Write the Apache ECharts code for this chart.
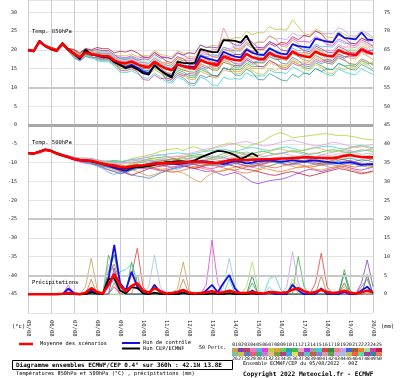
<!DOCTYPE html>
<html><head><meta charset="utf-8">
<script src="https://cdn.jsdelivr.net/npm/echarts@6/dist/echarts.min.js"></script>
<style>html,body{margin:0;padding:0;background:#fff}#c{width:400px;height:378px}</style>
</head><body><div id="c"></div>
<script>
// ---------- time axis (6-hourly, 05/08 00Z .. 20/08 00Z) ----------
const STEP_H = 6;
const DATES = ['05/08','06/08','07/08','08/08','09/08','10/08','11/08','12/08','13/08','14/08','15/08','16/08','17/08','18/08','19/08','20/08'];

// ---------- Temp 850 hPa (°C) ----------
const T850_MEAN = [19.9,19.7,22.2,21.0, 20.3,19.8,21.6,20.0, 18.9,18.0,19.2,18.8, 18.6,18.3,18.3,17.2, 16.6,16.4,16.9,16.2, 15.6,15.4,16.8,15.8, 15.0,14.6,16.2,15.6, 15.2,15.0,17.3,16.6, 16.2,16.0,18.2,17.7, 17.3,17.2,18.9,18.0, 17.6,17.5,19.2,18.4, 18.0,17.7,19.5,18.7, 18.3,18.0,19.5,18.8, 18.4,18.2,19.9,19.2, 18.8,18.6,20.1,19.4, 18.9];
const T850_OPER = [20.0,19.6,22.4,21.0, 20.2,19.8,21.8,20.2, 19.0,17.6,20.0,18.8, 18.5,18.2,18.0,16.8, 16.0,15.1,15.6,14.8, 13.8,13.4,16.0,14.6, 13.5,12.6,16.8,16.5, 16.4,16.5,20.2,19.8, 19.4,19.4,22.6,22.5, 22.4,21.9,23.8,21.0, 19.1];
const T850_CTRL = [20.0,19.6,22.3,21.0, 20.2,19.8,21.7,20.0, 19.0,17.5,19.6,18.8, 18.5,18.0,18.0,16.8, 16.0,15.4,16.0,15.2, 14.2,13.8,15.8,14.6, 13.6,13.0,16.0,15.6, 15.6,15.4,18.4,17.8, 17.4,17.0,19.5,18.8, 18.2,18.0,20.0,19.2, 18.8,18.6,20.4,19.6, 19.0,18.8,21.5,21.0, 20.8,20.6,23.0,22.6, 22.2,22.0,24.4,23.2, 23.0,22.8,24.6,22.8, 22.6];
const T850_M01 = [20.1,19.9,22.4,21.2, 20.6,20.1,21.9,20.3, 19.5,18.6,19.8,19.4, 19.8,19.5,19.5,18.4, 18.6,18.4,18.9,18.2, 18.6,18.4,19.8,18.8, 18.5,18.1,19.7,19.1, 19.2,19.0,21.3,20.6, 21.2,21.0,23.2,22.7, 23.3,23.2,24.9,24.0, 24.6,24.5,26.2,25.4, 25.5,25.2,28.0,26.2, 24.3,24.0,25.5,24.8, 23.4,23.2,24.9,24.2, 23.3,23.1,24.6,23.9, 22.9];
const T850_M02 = [19.7,19.5,22.0,20.8, 20.0,19.5,21.3,19.7, 18.1,17.2,18.4,18.0, 17.1,16.8,16.8,15.7, 14.1,13.9,14.4,13.7, 12.6,12.4,13.8,12.8, 11.5,11.1,12.7,12.1, 10.7,10.5,12.8,12.1, 10.7,10.5,12.7,12.2, 12.3,12.2,13.9,13.0, 13.1,13.0,14.7,13.9, 14.0,13.7,15.5,14.7, 13.8,13.5,15.0,14.3, 13.4,13.2,14.9,14.2, 13.6,13.4,14.9,14.2, 13.4];
const T850_M03 = [19.9,19.7,22.2,21.0, 20.5,20.0,21.8,20.2, 19.2,18.3,19.5,19.1, 19.4,19.1,19.1,18.0, 18.1,17.9,18.4,17.7, 18.1,17.9,19.3,18.3, 18.0,17.6,19.2,18.6, 17.7,17.5,19.8,19.1, 18.2,18.0,20.2,19.7, 19.8,19.7,21.4,20.5, 20.6,20.5,22.2,21.4, 21.5,21.2,23.0,22.2, 22.3,22.0,23.5,22.8, 21.4,21.2,22.9,22.2, 21.3,21.1,22.6,21.9, 20.9];
const T850_M04 = [20.0,19.8,22.3,21.1, 20.2,19.7,21.5,19.9, 18.4,17.5,18.7,18.3, 17.6,17.3,17.3,16.2, 15.1,14.9,15.4,14.7, 14.1,13.9,15.3,14.3, 13.0,12.6,14.2,13.6, 12.7,12.5,14.8,14.1, 13.2,13.0,15.2,14.7, 14.8,14.7,16.4,15.5, 15.6,15.5,17.2,16.4, 15.5,15.2,17.0,16.2, 15.3,15.0,16.5,15.8, 14.9,14.7,16.4,15.7, 15.8,15.6,17.1,16.4, 16.4];
const T850_M05 = [20.2,20.0,22.5,21.3, 20.5,20.0,21.8,20.2, 19.9,19.0,20.2,19.8, 20.1,19.8,19.8,18.7, 17.6,17.4,17.9,17.2, 17.6,17.4,18.8,17.8, 18.0,17.6,19.2,18.6, 19.2,19.0,21.3,20.6, 20.7,20.5,22.7,22.2, 21.3,21.2,22.9,22.0, 20.6,20.5,22.2,21.4, 20.0,19.7,21.5,20.7, 19.8,19.5,21.0,20.3, 19.4,19.2,20.9,20.2, 19.3,19.1,20.6,19.9, 19.9];
const T850_M06 = [19.8,19.6,22.1,20.9, 20.3,19.8,21.6,20.0, 19.1,18.2,19.4,19.0, 18.1,17.8,17.8,16.7, 15.6,15.4,15.9,15.2, 13.6,13.4,14.8,13.8, 12.5,12.1,13.7,13.1, 12.2,12.0,14.3,13.6, 12.7,12.5,14.7,14.2, 14.3,14.2,15.9,15.0, 15.1,15.0,16.7,15.9, 16.0,15.7,17.5,16.7, 16.8,16.5,18.0,17.3, 17.4,17.2,18.9,18.2, 17.8,17.6,19.1,18.4, 17.4];
const T850_M07 = [19.9,19.7,22.2,21.0, 20.4,19.9,21.7,20.1, 19.2,18.3,19.5,19.1, 19.1,18.8,18.8,17.7, 17.1,16.9,17.4,16.7, 16.6,16.4,17.8,16.8, 16.5,16.1,17.7,17.1, 17.2,17.0,19.3,18.6, 20.2,20.0,25.8,22.7, 20.3,20.2,21.9,21.0, 18.6,18.5,20.2,19.4, 18.5,18.2,20.0,19.2, 19.3,19.0,20.5,19.8, 19.9,19.7,21.4,20.7, 20.8,20.6,22.1,21.4, 20.4];
const T850_M08 = [19.7,19.5,22.0,20.8, 20.1,19.6,21.4,19.8, 18.6,17.7,18.9,18.5, 18.6,18.3,18.3,17.2, 16.1,15.9,16.4,15.7, 14.6,14.4,15.8,14.8, 13.5,13.1,14.7,14.1, 13.2,13.0,15.3,14.6, 13.2,13.0,15.2,14.7, 13.3,13.2,14.9,14.0, 12.1,12.0,13.7,12.9, 12.0,11.7,13.5,12.7, 13.8,13.5,15.0,14.3, 14.9,14.7,16.4,15.7, 14.8,14.6,16.1,15.4, 14.4];
const T850_M09 = [20.0,19.8,22.3,21.1, 20.3,19.8,21.6,20.0, 18.9,18.0,19.2,18.8, 19.6,19.3,19.3,18.2, 17.1,16.9,17.4,16.7, 16.1,15.9,17.3,16.3, 16.0,15.6,17.2,16.6, 16.7,16.5,18.8,18.1, 18.7,18.5,20.7,20.2, 20.8,20.7,22.4,21.5, 22.1,22.0,23.7,22.9, 23.0,22.7,24.5,23.7, 23.8,23.5,25.0,24.3, 24.4,24.2,25.9,25.2, 23.8,23.6,25.1,24.4, 23.4];
const T850_M10 = [19.9,19.7,22.2,21.0, 20.1,19.6,21.4,19.8, 18.9,18.0,19.2,18.8, 18.3,18.0,18.0,16.9, 15.8,15.6,16.1,15.4, 15.1,14.9,16.3,15.3, 14.0,13.6,15.2,14.6, 14.2,14.0,16.3,15.6, 14.7,14.5,16.7,16.2, 15.8,15.7,17.4,16.5, 16.6,16.5,18.2,17.4, 17.5,17.2,19.0,18.2, 17.3,17.0,18.5,17.8, 16.4,16.2,17.9,17.2, 16.3,16.1,17.6,16.9, 15.9];
const T850_M11 = [19.9,19.7,22.2,21.0, 20.4,19.9,21.7,20.1, 18.7,17.8,19.0,18.6, 19.2,18.9,18.9,17.8, 17.8,17.6,18.1,17.4, 16.6,16.4,17.8,16.8, 15.5,15.1,16.7,16.1, 16.7,16.5,18.8,18.1, 18.7,18.5,20.7,20.2, 18.8,18.7,20.4,19.5, 18.1,18.0,19.7,18.9, 19.0,18.7,20.5,19.7, 20.3,20.0,21.5,20.8, 20.9,20.7,22.4,21.7, 21.8,21.6,23.1,22.4, 20.9];
const T850_M12 = [19.9,19.7,22.2,21.0, 20.2,19.7,21.5,19.9, 19.3,18.4,19.6,19.2, 17.8,17.5,17.5,16.4, 14.6,14.4,14.9,14.2, 12.1,11.9,13.3,12.3, 12.5,12.1,13.7,13.1, 13.7,13.5,15.8,15.1, 15.7,15.5,17.7,17.2, 16.3,16.2,17.9,17.0, 15.6,15.5,17.2,16.4, 15.0,14.7,16.5,15.7, 16.3,16.0,17.5,16.8, 17.4,17.2,18.9,18.2, 18.3,18.1,19.6,18.9, 18.9];
const T850_M13 = [20.0,19.8,22.3,21.1, 20.6,20.1,21.9,20.3, 19.7,18.8,20.0,19.6, 18.9,18.6,18.6,17.5, 16.1,15.9,16.4,15.7, 16.1,15.9,17.3,16.3, 16.5,16.1,17.7,17.1, 18.2,18.0,20.3,19.6, 18.2,18.0,20.2,19.7, 20.3,20.2,21.9,21.0, 22.1,22.0,23.7,22.9, 21.0,20.7,22.5,21.7, 19.3,19.0,20.5,19.8, 18.4,18.2,19.9,19.2, 19.8,19.6,21.1,20.4, 21.4];
const T850_M14 = [19.8,19.6,22.1,20.9, 20.3,19.8,21.6,20.0, 18.3,17.4,18.6,18.2, 17.4,17.1,17.1,16.0, 15.6,15.4,15.9,15.2, 15.6,15.4,16.8,15.8, 16.0,15.6,17.2,16.6, 15.2,15.0,17.3,16.6, 15.2,15.0,17.2,16.7, 15.3,15.2,16.9,16.0, 16.6,16.5,18.2,17.4, 18.0,17.7,19.5,18.7, 18.8,18.5,20.0,19.3, 16.9,16.7,18.4,17.7, 15.8,15.6,17.1,16.4, 14.9];
const T850_M15 = [20.1,19.9,22.4,21.2, 20.7,20.2,22.0,20.4, 20.1,19.2,20.4,20.0, 20.6,20.3,20.3,19.2, 19.6,19.4,19.9,19.2, 18.1,17.9,19.3,18.3, 17.0,16.6,18.2,17.6, 16.2,16.0,18.3,17.6, 16.7,16.5,18.7,18.2, 18.8,18.7,20.4,19.5, 20.1,20.0,21.7,20.9, 22.0,21.7,23.5,22.7, 23.8,23.5,25.0,24.3, 22.4,22.2,23.9,23.2, 21.8,21.6,23.1,22.4, 22.4];
const T850_M16 = [19.7,19.5,22.0,20.8, 19.9,19.4,21.2,19.6, 17.9,17.0,18.2,17.8, 18.1,17.8,17.8,16.7, 16.6,16.4,16.9,16.2, 14.6,14.4,15.8,14.8, 12.0,11.6,13.2,12.6, 11.2,11.0,13.3,12.6, 13.2,13.0,15.2,14.7, 15.8,15.7,17.4,16.5, 17.1,17.0,18.7,17.9, 16.5,16.2,18.0,17.2, 15.8,15.5,17.0,16.3, 16.9,16.7,18.4,17.7, 18.8,18.6,20.1,19.4, 19.9];
const T850_M17 = [19.9,19.7,22.2,21.0, 20.5,20.0,21.8,20.2, 18.9,18.0,19.2,18.8, 19.6,19.3,19.3,18.2, 17.4,17.2,17.7,17.0, 17.1,16.9,18.3,17.3, 15.0,14.6,16.2,15.6, 14.2,14.0,16.3,15.6, 17.2,17.0,19.2,18.7, 19.8,19.7,21.4,20.5, 19.1,19.0,20.7,19.9, 17.5,17.2,19.0,18.2, 17.3,17.0,18.5,17.8, 18.9,18.7,20.4,19.7, 20.3,20.1,21.6,20.9, 19.4];
const T850_M18 = [19.8,19.6,22.1,20.9, 20.1,19.6,21.4,19.8, 19.1,18.2,19.4,19.0, 18.3,18.0,18.0,16.9, 15.1,14.9,15.4,14.7, 13.6,13.4,14.8,13.8, 14.0,13.6,15.2,14.6, 15.7,15.5,17.8,17.1, 15.2,15.0,17.2,16.7, 13.8,13.7,15.4,14.5, 13.6,13.5,15.2,14.4, 15.5,15.2,17.0,16.2, 14.8,14.5,16.0,15.3, 13.9,13.7,15.4,14.7, 15.3,15.1,16.6,15.9, 16.9];

// ---------- Temp 500 hPa (°C) ----------
const T500_MEAN = [-7.5,-7.6,-7.2,-6.6, -6.9,-7.6,-8.1,-8.5, -9.0,-9.3,-9.4,-9.5, -9.9,-10.3,-10.6,-10.8, -11.2,-11.3,-11.0,-10.8, -10.7,-10.5,-10.3,-10.2, -10.2,-10.1,-10.0,-9.9, -9.8,-9.8,-9.8,-9.9, -10.0,-10.1,-9.8,-9.4, -9.2,-9.3,-9.3,-9.2, -9.2,-9.1,-9.1,-9.0, -8.9,-8.9,-8.8,-8.7, -8.6,-8.6,-8.7,-8.7, -8.8,-8.8,-8.6,-8.2, -8.0,-8.3,-8.5,-8.6, -8.6];
const T500_OPER = [-7.5,-7.6,-7.0,-6.5, -6.8,-7.5,-8.0,-8.5, -9.0,-9.3,-9.4,-9.6, -10.0,-10.3,-10.7,-11.0, -11.4,-11.6,-11.3,-11.2, -11.1,-10.9,-10.6,-10.2, -9.9,-9.8,-9.6,-9.7, -9.8,-9.4,-8.6,-8.0, -7.4,-6.9,-7.0,-7.4, -8.0,-9.0,-8.4,-7.5, -8.4];
const T500_CTRL = [-7.5,-7.6,-7.1,-6.6, -6.9,-7.6,-8.1,-8.6, -9.1,-9.4,-9.5,-9.7, -10.0,-10.5,-10.9,-11.4, -11.8,-12.2,-11.6,-11.0, -10.8,-10.5,-10.2,-10.0, -10.1,-10.3,-10.4,-10.2, -10.0,-9.8,-9.6,-9.7, -9.9,-10.2,-10.4,-10.0, -9.6,-9.8,-10.2,-10.0, -9.6,-9.5,-9.4,-9.6, -9.8,-9.6,-9.4,-9.6, -9.8,-9.5,-9.4,-9.6, -9.8,-10.0,-10.2,-10.0, -9.9,-10.2,-10.6,-10.4, -10.4];
const T500_M01 = [-7.5,-7.5,-7.0,-6.5, -6.8,-7.4,-8.0,-8.3, -8.8,-9.0,-9.2,-9.0, -9.4,-9.8,-9.6,-9.8, -10.0,-9.6,-9.0,-8.6, -8.4,-8.0,-7.6,-7.0, -6.6,-6.4,-6.2,-6.8, -6.0,-5.8,-6.4,-6.9, -6.2,-5.6,-5.2,-4.8, -5.0,-5.6,-6.0,-5.2, -4.8,-4.2,-3.2,-2.4, -2.0,-2.6,-3.4,-3.2, -3.0,-2.8,-2.6,-2.4, -2.3,-2.6,-2.8,-2.7, -3.0,-3.2,-3.6,-3.8, -4.0];
const T500_M02 = [-7.6,-7.7,-7.3,-6.8, -7.0,-7.7,-8.3,-8.7, -9.2,-9.5,-9.8,-10.0, -10.4,-10.8,-11.2,-11.4, -11.8,-12.0,-11.8,-11.6, -11.6,-11.4,-11.8,-12.2, -12.0,-11.6,-11.2,-11.0, -11.2,-11.6,-12.0,-12.4, -12.2,-12.8,-13.4,-13.0, -12.6,-13.2,-14.2,-15.2, -15.6,-15.2,-14.8,-14.6, -14.4,-14.0,-13.4,-12.8, -12.2,-11.8,-12.0,-12.4, -12.0,-11.6,-11.2,-11.0, -11.4,-11.8,-12.0,-11.6, -11.2];
const T500_M03 = [-7.5,-7.6,-7.1,-6.6, -6.9,-7.5,-8.0,-8.6, -9.2,-9.6,-9.8,-10.0, -10.2,-10.8,-11.4,-12.0, -12.4,-12.2,-11.8,-12.4, -13.0,-13.6,-13.2,-12.6, -12.4,-12.2,-12.4,-12.8, -13.6,-14.6,-15.2,-13.8, -12.8,-12.4,-12.0,-11.6, -11.2,-11.0,-10.8,-11.2, -11.6,-11.2,-10.8,-10.4, -10.2,-10.6,-11.0,-11.4, -11.2,-10.8,-10.4,-10.6, -11.0,-11.4,-11.2,-10.8, -10.6,-10.4,-10.8,-11.2, -11.4];
const T500_M04 = [-7.4,-7.5,-7.0,-6.5, -6.7,-7.3,-7.8,-8.2, -8.6,-8.8,-8.8,-8.9, -9.2,-9.6,-9.8,-9.7, -9.8,-9.6,-9.2,-9.0, -8.8,-8.6,-8.2,-8.0, -7.8,-7.6,-7.4,-7.6, -7.8,-7.6,-7.2,-7.0, -6.8,-6.6,-6.4,-6.8, -7.0,-6.6,-6.2,-6.0, -6.2,-6.6,-6.8,-6.4, -6.0,-5.8,-6.2,-6.6, -6.8,-6.4,-6.0,-5.8, -5.6,-5.8,-6.2,-6.4, -6.0,-5.6,-5.4,-5.8, -6.0];
const T500_M05 = [-7.5,-7.7,-7.3,-6.7, -7.0,-7.7,-8.3,-8.8, -9.4,-9.8,-10.2,-10.4, -10.8,-11.4,-12.0,-12.4, -12.8,-12.6,-12.0,-11.4, -11.0,-10.8,-10.6,-10.8, -11.0,-11.2,-11.0,-10.6, -10.4,-10.6,-11.0,-11.4, -11.6,-11.2,-10.8,-10.4, -10.2,-10.6,-11.0,-11.2, -10.8,-10.4,-10.0,-9.8, -10.0,-10.4,-10.6,-10.2, -9.8,-9.6,-10.0,-10.4, -10.6,-10.2,-9.8,-9.6, -9.4,-9.8,-10.2,-10.6, -10.8];
const T500_M06 = [-7.5,-7.6,-7.2,-6.6, -6.9,-7.5,-8.0,-8.4, -8.8,-9.0,-9.0,-9.1, -9.4,-9.6,-9.6,-9.4, -9.6,-10.0,-10.2,-9.8, -9.4,-9.0,-8.8,-8.6, -8.4,-8.8,-9.0,-8.6, -8.2,-8.0,-7.8,-8.2, -8.6,-8.2,-7.6,-7.2, -7.0,-7.4,-7.8,-7.6, -7.2,-7.0,-7.4,-7.8, -7.6,-7.2,-6.8,-7.0, -7.4,-7.8,-7.6,-7.2, -6.8,-6.6,-6.8,-7.2, -7.4,-7.0,-6.6,-6.8, -7.0];
const T500_M07 = [-7.6,-7.7,-7.3,-6.8, -7.1,-7.8,-8.3,-8.6, -9.1,-9.4,-9.6,-9.8, -10.0,-10.4,-10.8,-11.0, -11.2,-11.4,-11.6,-11.4, -11.2,-11.0,-11.4,-11.8, -11.6,-11.2,-10.8,-10.6, -10.8,-11.2,-11.4,-11.8, -12.0,-12.4,-12.2,-11.8, -12.2,-12.6,-12.8,-12.4, -12.0,-11.6,-11.8,-12.2, -12.4,-12.0,-11.6,-11.2, -11.0,-11.4,-11.8,-12.0, -11.6,-11.2,-11.0,-11.4, -11.8,-12.2,-12.6,-12.8, -12.4];
const T500_M08 = [-7.5,-7.6,-7.1,-6.6, -6.8,-7.4,-7.9,-8.3, -8.7,-9.1,-9.3,-9.2, -9.4,-9.8,-10.0,-10.2, -10.4,-10.2,-9.8,-9.4, -9.2,-9.4,-9.6,-9.2, -8.8,-8.4,-8.2,-8.6, -9.0,-9.2,-8.8,-8.4, -8.2,-8.6,-9.0,-8.8, -8.4,-8.0,-7.8,-8.2, -8.6,-8.4,-8.0,-7.6, -7.4,-7.8,-8.2,-8.4, -8.0,-7.6,-7.4,-7.8, -8.2,-8.0,-7.6,-7.2, -7.0,-7.4,-7.8,-7.6, -7.4];
const T500_M09 = [-7.5,-7.6,-7.2,-6.7, -7.0,-7.6,-8.2,-8.6, -9.1,-9.5,-9.7,-10.1, -10.6,-11.2,-11.8,-12.4, -13.0,-12.6,-12.0,-11.6, -11.2,-10.8,-10.4,-10.6, -10.8,-10.4,-10.0,-9.8, -9.6,-9.4,-9.8,-10.2, -10.4,-10.8,-11.0,-10.6, -10.2,-9.8,-9.6,-10.0, -10.2,-9.8,-9.4,-9.2, -9.4,-9.8,-10.2,-9.8, -9.4,-9.2,-9.6,-10.0, -10.2,-9.8,-9.4,-9.0, -8.8,-9.2,-9.6,-9.4, -9.0];
const T500_M10 = [-7.4,-7.5,-7.1,-6.5, -6.8,-7.5,-8.1,-8.4, -8.8,-9.2,-9.2,-9.4, -9.6,-9.8,-10.2,-10.0, -9.8,-9.4,-9.2,-9.6, -10.0,-9.8,-9.4,-9.0, -9.2,-9.6,-9.8,-9.4, -9.0,-8.6,-8.4,-8.8, -9.2,-9.0,-8.6,-8.2, -7.8,-7.4,-7.2,-7.6, -8.0,-8.4,-8.2,-7.8, -7.6,-7.2,-7.0,-7.4, -7.8,-8.2,-8.4,-8.0, -7.6,-7.2,-6.8,-6.6, -6.8,-7.2,-7.0,-6.6, -6.4];
const T500_M11 = [-7.5,-7.6,-7.1,-6.6, -6.9,-7.5,-8.2,-8.7, -9.3,-9.6,-9.9,-10.3, -10.9,-11.6,-12.6,-13.2, -12.4,-11.6,-10.8,-10.2, -9.8,-9.4,-9.8,-10.4, -10.8,-11.4,-11.8,-11.2, -10.6,-10.2,-9.6,-9.2, -8.8,-8.4,-8.6,-9.0, -9.4,-9.8,-10.2,-10.6, -10.8,-11.2,-11.0,-10.4, -10.0,-9.6,-9.2,-9.4, -9.8,-10.2,-10.6,-10.8, -10.4,-10.0,-9.6,-9.8, -10.2,-10.6,-11.0,-10.8, -10.4];
const T500_M12 = [-7.5,-7.5,-7.1,-6.5, -6.8,-7.4,-7.9,-8.2, -8.7,-9.0,-9.1,-9.3, -9.6,-10.0,-10.2,-10.4, -10.6,-10.8,-10.4,-10.0, -9.6,-9.2,-9.0,-9.4, -9.6,-9.2,-8.8,-8.4, -8.2,-8.6,-9.0,-9.4, -9.2,-8.8,-8.2,-7.6, -7.2,-7.6,-8.0,-8.4, -8.0,-7.6,-7.0,-6.6, -6.4,-6.8,-7.2,-7.0, -6.6,-6.2,-6.0,-6.4, -6.8,-7.2,-7.0,-6.6, -6.2,-5.8,-5.6,-6.0, -6.4];
const T500_M13 = [-7.6,-7.7,-7.2,-6.7, -7.0,-7.7,-8.2,-8.6, -9.0,-9.2,-9.4,-9.6, -9.8,-10.2,-10.8,-11.6, -12.2,-12.8,-13.4,-12.8, -12.2,-11.6,-11.2,-11.0, -10.6,-10.2,-10.4,-10.8, -11.2,-11.6,-11.2,-10.8, -10.4,-10.0,-10.2,-10.6, -11.0,-11.4,-11.8,-12.0, -12.4,-12.8,-13.2,-13.4, -13.0,-12.6,-12.4,-12.8, -13.2,-13.6,-13.2,-12.8, -12.4,-12.0,-11.6,-11.8, -12.2,-12.6,-13.0,-12.6, -12.2];
const T500_M14 = [-7.5,-7.6,-7.2,-6.6, -6.9,-7.6,-8.1,-8.5, -8.9,-9.1,-9.3,-9.4, -9.8,-10.1,-10.3,-10.4, -10.6,-10.8,-11.0,-11.2, -11.4,-11.2,-10.8,-10.4, -10.0,-9.6,-9.2,-9.0, -8.8,-8.4,-8.2,-8.6, -9.0,-9.4,-9.6,-9.2, -8.8,-8.4,-8.2,-8.6, -9.0,-9.4,-9.8,-10.0, -9.6,-9.2,-8.8,-8.4, -8.2,-8.6,-9.0,-9.2, -9.0,-8.6,-8.2,-7.8, -7.6,-8.0,-8.4,-8.2, -7.8];
const T500_M15 = [-7.5,-7.7,-7.3,-6.7, -7.0,-7.7,-8.2,-8.7, -9.2,-9.6,-9.9,-10.2, -10.6,-11.0,-11.2,-11.6, -12.0,-12.6,-13.2,-13.6, -13.8,-14.2,-13.6,-12.8, -12.2,-11.8,-11.4,-11.0, -10.6,-10.4,-10.2,-10.6, -10.8,-10.4,-10.0,-9.6, -9.4,-9.8,-10.2,-10.4, -10.2,-9.8,-9.6,-9.8, -10.2,-10.6,-10.4,-10.0, -9.6,-9.2,-9.4,-9.8, -10.2,-10.6,-10.8,-10.4, -10.0,-9.6,-9.2,-9.4, -9.8];
const T500_M16 = [-7.4,-7.5,-7.0,-6.4, -6.7,-7.3,-7.8,-8.1, -8.5,-8.8,-8.9,-9.0, -9.3,-9.6,-9.8,-10.0, -10.2,-10.0,-9.6,-9.2, -8.8,-8.4,-8.0,-7.8, -8.2,-8.6,-8.4,-8.0, -7.6,-7.2,-6.8,-6.4, -6.2,-6.0,-5.6,-5.2, -5.0,-4.6,-4.4,-4.8, -5.2,-5.6,-5.4,-5.0, -4.6,-4.2,-4.0,-4.4, -4.8,-5.2,-5.6,-5.4, -5.0,-4.6,-4.8,-5.2, -5.6,-6.0,-5.8,-5.4, -5.2];
const T500_M17 = [-7.5,-7.6,-7.2,-6.6, -6.9,-7.6,-8.1,-8.5, -9.0,-9.4,-9.6,-9.8, -10.2,-10.6,-11.0,-11.2, -11.6,-11.8,-11.4,-11.0, -10.6,-10.2,-9.8,-9.6, -9.4,-9.0,-9.2,-9.6, -10.0,-10.4,-10.8,-10.6, -10.2,-9.8,-9.4,-9.6, -10.0,-10.4,-10.8,-11.0, -10.6,-10.2,-9.8,-9.4, -9.0,-8.6,-8.8,-9.2, -9.6,-10.0,-10.4,-10.2, -9.8,-9.4,-9.0,-9.2, -9.6,-10.0,-10.4,-10.8, -11.0];
const T500_M18 = [-7.5,-7.6,-7.2,-6.7, -7.0,-7.6,-8.1,-8.6, -9.1,-9.5,-9.6,-9.8, -10.0,-10.4,-10.6,-10.6, -10.8,-11.0,-10.8,-10.6, -10.8,-11.2,-11.6,-12.0, -12.2,-12.6,-12.4,-12.0, -11.6,-11.2,-10.8,-10.4, -10.6,-11.0,-11.4,-11.8, -12.0,-11.6,-11.2,-10.8, -10.6,-10.8,-11.2,-11.4, -11.0,-10.6,-10.2,-10.4, -10.8,-11.2,-11.0,-10.6, -10.2,-10.0,-10.2,-10.6, -11.0,-11.2,-10.8,-10.4, -10.2];

// ---------- Precipitation (mm / 6h) ----------
const PR_MEAN = [0,0,0,0,0,0,0.1,0.3,0.1,0, 0.4,1.6,0.6,0.2,2.5,5.4,2.4,0.8,2.2,2.9, 1.0,0.4,1.6,0.8,0.2,0.3,0.6,1.1,0.4,0.2, 0.3,0.5,0.8,0.4,0.5,0.9,0.5,0.3,0.3,0.6, 0.3,0.2,0.6,0.5,0.3,0.5,1.2,1.6,0.8,0.3, 0.6,1.2,0.6,0.3,0.5,0.9,0.4,0.2,0.5,0.9, 0.5];
const PR_OPER = [0,0,0,0,0,0,0,0.2,0,0, 0,0.5,0.2,0,4.0,4.3,1.0,0.2,1.9,1.6, 0.3,0,0.4,0.1,0,0,0,0.4,0,0, 0,0,0.2,0,0,0.3,0,0,0,0.2, 0];
const PR_CTRL = [0,0,0,0,0,0,0,1.5,0.3,0, 0,1.0,0.2,0,4.0,13.1,3.0,1.0,6.0,2.0, 0.2,0,2.5,0.5,0,0,0,1.2,0,0, 0,1.0,2.5,0.5,3.0,5.1,1.5,0,0,1.0, 0,0,0.5,0,0,0,2.5,1.0,0,0, 0,1.5,0,0,0,0.6,0,0,1.0,2.0, 0.3];
const PR_M01 = [0,0,0,0,0,0,0,0,0,0, 2.0,9.6,1.5,0,0,3.0,0,0,0,0, 0,0,2.0,0,0,0,1.5,8.6,1.0,0, 0,0,0,0,0,0,0,0,0,0, 0,0,0,0,0,0,3.0,0,0,0, 0,0,0,0,0,2.0,0,0,0,0, 0];
const PR_M02 = [0,0,0,0,0,0,0,0,0,0, 0,0,0,0,0,2.0,0,1.0,5.0,12.2, 2.0,0,0,0,0,0,0,0,0,0, 0,0,1.0,0,0,0,0,0,0,0, 0,0,0,0,0,0,0,0,0,0, 3.0,10.9,2.0,0,0,0,0,0,0,0, 0];
const PR_M03 = [0,0,0,0,0,0,0,2.4,0,0, 0,0,0,0,2.0,4.0,0,0,0,0, 0,0,0,0,0,0,0,0,0,0, 0,2.5,14.4,3.0,0,1.0,0,0,0,0, 0,0,0,0,0,0,0,0,0,0, 0,0,0,0,0,0,0,0,2.0,4.0, 0];
const PR_M04 = [0,0,0,0,0,0,0,0,0,0, 0,0,0,0,10.4,6.0,2.0,0,8.6,3.0, 0,0,0,1.0,0,0,0,0,0,0, 0,0,0,0,0,0,0,0,0,3.0, 0,0,0,0,0,0,0,10.0,2.0,0, 0,0,0,0,0,6.5,1.0,0,0,0, 0];
const PR_M05 = [0,0,0,0,0,0,0,0,0,0, 0,0,0,0,0,3.0,6.0,6.5,8.0,3.0, 0.5,0,0,0,0,0,0,0,0,0, 0,0,0,0,0,4.0,0,0,0,0, 0,0,4.2,4.8,1.0,0,0,0,0,0, 0,0,0,0,0,3.0,0,0,0,0, 0];
const PR_M06 = [0,0,0,0,0,0,0,0,0,0, 0,0,0,0,0,0,0,0,0,0, 0,2.0,10.4,2.0,0,0,0,0,0,0, 0,0,0,0,2.0,9.6,2.0,0,0,0, 0,0,2.0,0,0,0,0,0,0,0, 0,0,0,0,0,0,0,0,0,0, 0];
const PR_M07 = [0,0,0,0,0,0,0,0,0,0, 0,0,0,0,0,0,0,0,0,0, 0,0,0,0,0,0,0,0,0,0, 0,0,0,0,0,0,0,0,2.0,8.6, 1.5,0,0,0,0,0,4.0,2.0,0,0, 0,0,0,0,0,0,0,0,0,5.0, 0];
const PR_M08 = [0,0,0,0,0,0,0,0,0,0, 0,0,0,0,8.0,6.0,1.0,0,0,0, 0,0,0,0,0,0,0,0,0,0, 0,0,0,0,0,0,0,0,0,0, 0,0,0,0,0,2.0,11.3,3.0,0,0, 0,2.0,0,0,0,0,0,0,0,0, 0];
const PR_M09 = [0,0,0,0,0,0,0,1.0,0,0, 0,0,0,0,0,7.0,2.0,0,0,0, 0,0,0,0,0,0,0,0,0,0, 0,0,0,0,0,0,0,0,0,0, 0,0,0,0,0,0,0,0,0,0, 0,0,0,0,0,0,0,0,3.0,9.1, 2.0];
const PR_M10 = [0,0,0,0,0,0,0,0,0,0, 0,4.0,0,0,5.0,8.0,3.0,0,0,5.0, 0,0,0,0,0,0,0,4.0,0,0, 0,0,0,0,0,0,0,0,0,0, 0,0,0,0,0,0,0,0,0,0, 0,5.0,0,0,0,3.0,0,0,0,0, 0];
const PR_M11 = [0,0,0,0,0,0,0,0,0,0, 0,0,0,0,6.0,10.5,3.0,0,0,0, 0,0,0,0,0,0,0,0,0,0, 0,0,0,0,0,0,0,0,0,5.0, 0,0,0,0,0,0,0,0,0,0, 0,0,0,0,0,5.5,0,0,0,5.2, 0];

// ---------- legend palette of the 50 perturbations ----------
const PERT_COLORS = ['#c8a050','#8040c0','#c04060','#e080c0','#60b0e0','#e040e0','#b0d040','#e0a040','#60d060','#30a0a0','#40c040','#f0a0c0','#a040e0','#a0a0a0','#40d0d0','#e04040','#309040','#f08080','#c0a0f0','#4060e0','#a06030','#f08030','#a0e0a0','#d040a0','#c02040',
                     '#80c0a0','#d0c040','#6080c0','#e06080','#40b080','#c080e0','#e0c080','#80a040','#b04080','#40a0e0','#e0e060','#a06080','#60c0c0','#c06040','#8080e0','#d0a0a0','#60a060','#e0a0e0','#a0c0e0','#c0c060','#f06040','#60e0a0','#a040a0','#4080a0','#e08060'];

const MONO = '"DejaVu Sans Mono"';
const toPairs = a => a.map((v, i) => [i * STEP_H, v]);

function member(arr, color, axis) {
  return { type: 'line', data: toPairs(arr), yAxisIndex: axis, showSymbol: false, silent: true,
    lineStyle: { width: 0.8, color: color }, itemStyle: { color: color }, z: 2, animation: false };
}
function main(arr, color, width, axis, z) {
  return { type: 'line', data: toPairs(arr), yAxisIndex: axis, showSymbol: false, silent: true,
    lineStyle: { width: width, color: color }, itemStyle: { color: color }, z: z, animation: false };
}

const series = [
  { type: 'line', data: [], yAxisIndex: 0, silent: true, z: 1, animation: false,
    markLine: { silent: true, symbol: ['none', 'none'], label: { show: false }, animation: false,
      data: [
        { yAxis: 10, lineStyle: { color: '#c8c8c8', width: 2, type: 'solid' } },
        { yAxis: 0, lineStyle: { color: '#a8a8a8', width: 3, type: 'solid' } },
        { yAxis: -25, lineStyle: { color: '#c8c8c8', width: 2, type: 'solid' } },
        { yAxis: -40, lineStyle: { color: '#c8c8c8', width: 2, type: 'solid' } }
      ] } },
  member(T850_M01, '#c8c040', 0), member(T850_M02, '#40d0d0', 0), member(T850_M03, '#e040e0', 0),
  member(T850_M04, '#40b040', 0), member(T850_M05, '#8040c0', 0), member(T850_M06, '#f0a040', 0),
  member(T850_M07, '#f080a0', 0), member(T850_M08, '#30a0a0', 0), member(T850_M09, '#c0a0f0', 0),
  member(T850_M10, '#a06030', 0), member(T850_M11, '#60b0e0', 0), member(T850_M12, '#d040a0', 0),
  member(T850_M13, '#e0a040', 0), member(T850_M14, '#80c0a0', 0), member(T850_M15, '#c02040', 0),
  member(T850_M16, '#6080c0', 0), member(T850_M17, '#a0e0a0', 0), member(T850_M18, '#d0c040', 0),
  member(T500_M01, '#b0d040', 0), member(T500_M02, '#a040e0', 0), member(T500_M03, '#c8a050', 0),
  member(T500_M04, '#40d0d0', 0), member(T500_M05, '#e040e0', 0), member(T500_M06, '#40c040', 0),
  member(T500_M07, '#f08030', 0), member(T500_M08, '#f0a0c0', 0), member(T500_M09, '#30a0a0', 0),
  member(T500_M10, '#a0b0d0', 0), member(T500_M11, '#60b0e0', 0), member(T500_M12, '#d0c040', 0),
  member(T500_M13, '#c02040', 0), member(T500_M14, '#80c0a0', 0), member(T500_M15, '#6080c0', 0),
  member(T500_M16, '#e0a0e0', 0), member(T500_M17, '#a06030', 0), member(T500_M18, '#f06040', 0),
  member(PR_M01, '#c8a050', 1), member(PR_M02, '#e04040', 1), member(PR_M03, '#e040e0', 1),
  member(PR_M04, '#40b040', 1), member(PR_M05, '#40d0d0', 1), member(PR_M06, '#a0c0e0', 1),
  member(PR_M07, '#a0e060', 1), member(PR_M08, '#c0a0f0', 1), member(PR_M09, '#8040c0', 1),
  member(PR_M10, '#c08040', 1), member(PR_M11, '#208060', 1),
  main(T850_CTRL, '#1010e0', 1.8, 0, 5), main(T500_CTRL, '#1010e0', 1.8, 0, 5), main(PR_CTRL, '#1010e0', 1.8, 1, 5),
  main(T850_OPER, '#000000', 1.8, 0, 6), main(T500_OPER, '#000000', 1.8, 0, 6), main(PR_OPER, '#000000', 1.8, 1, 6),
  main(T850_MEAN, '#ff0000', 2.6, 0, 7), main(T500_MEAN, '#ff0000', 2.6, 0, 7), main(PR_MEAN, '#ff0000', 2.6, 1, 7)
];

// ---------- graphic texts / legend ----------
const graphics = [];
function txt(x, y, text, size, bold, align) {
  graphics.push({ type: 'text', x: x, y: y, silent: true, z: 100,
    style: { text: text, fill: '#000', font: (bold ? 'bold ' : '') + size + 'px ' + MONO,
      align: align || 'left', verticalAlign: 'middle' } });
}
txt(32, 32, 'Temp. 850hPa', 5.5);
txt(32, 143, 'Temp. 500hPa', 5.5);
txt(32, 283, 'Précipitations', 5.5);
txt(12, 327, '(°c)', 5.5);
txt(381, 327, '(mm)', 5.5);
graphics.push({ type: 'line', silent: true, shape: { x1: 19, y1: 344, x2: 33, y2: 344 }, style: { stroke: '#ff0000', lineWidth: 2.5 } });
txt(40, 344, 'Moyenne des scénarios', 5.3);
graphics.push({ type: 'line', silent: true, shape: { x1: 122, y1: 343, x2: 140, y2: 343 }, style: { stroke: '#1010e0', lineWidth: 2 } });
txt(143, 343, 'Run de contrôle', 5.3);
graphics.push({ type: 'line', silent: true, shape: { x1: 122, y1: 348.5, x2: 140, y2: 348.5 }, style: { stroke: '#000', lineWidth: 2 } });
txt(143, 348.5, 'Run CEP/ECMWF', 5.3);
txt(199, 348, '50 Perts.', 5);
for (let c = 0; c < 25; c++) {
  const x = 232 + c * 6;
  graphics.push({ type: 'rect', silent: true, shape: { x: x, y: 348, width: 6, height: 4 }, style: { fill: PERT_COLORS[c] } });
  graphics.push({ type: 'rect', silent: true, shape: { x: x, y: 352, width: 6, height: 4 }, style: { fill: PERT_COLORS[c + 25] } });
  txt(x + 3, 345, String(c + 1).padStart(2, '0'), 4.6, false, 'center');
  txt(x + 3, 358.5, String(c + 26).padStart(2, '0'), 4.6, false, 'center');
}
graphics.push({ type: 'rect', silent: true, shape: { x: 12.5, y: 360.5, width: 220, height: 9 }, style: { fill: '#fff', stroke: '#000', lineWidth: 1 } });
txt(16, 365, 'Diagramme ensembles ECMWF/CEP 0.4° sur 360h : 42.1N 13.8E', 6, true);
txt(16, 374, 'Températures 850hPa et 500hPa (°C) , précipitations (mm)', 5.3);
txt(243, 363.5, 'Ensemble ECMWF/CEP du 05/08/2022 - 00Z', 5);
txt(243, 374, 'Copyright 2022 Meteociel.fr - ECMWF', 6.2, true);

const chart = echarts.init(document.getElementById('c'), null, { renderer: 'canvas', width: 400, height: 378 });
chart.setOption({
  animation: false,
  backgroundColor: '#ffffff',
  grid: { left: 28, right: 27, top: 0, height: 313.0, containLabel: false },
  xAxis: { type: 'value', min: 0, max: 360, interval: 24,
    axisLine: { show: false }, axisTick: { show: false },
    splitLine: { show: true, lineStyle: { color: '#cccccc', width: 1 } },
    axisLabel: { rotate: -90, fontSize: 5.5, fontFamily: MONO, color: '#222', margin: 7, padding: [0, 0, 4, 0],
      showMinLabel: true, showMaxLabel: true, formatter: v => DATES[Math.round(v / 24)] } },
  yAxis: [
    { type: 'value', min: -50, max: 33.25, interval: 5, position: 'left',
      axisLine: { show: false }, axisTick: { show: false },
      splitLine: { show: true, lineStyle: { color: '#e4e4e4', width: 1 } },
      axisLabel: { fontSize: 5, fontFamily: MONO, color: '#222', margin: 11, showMaxLabel: false,
        formatter: v => (v <= 30 && v >= -45) ? String(v) : '' } },
    { type: 'value', min: -5, max: 78.25, interval: 5, position: 'right',
      axisLine: { show: false }, axisTick: { show: false }, splitLine: { show: false },
      axisLabel: { fontSize: 5, fontFamily: MONO, color: '#222', margin: 11, showMaxLabel: false,
        formatter: v => (v <= 75 && v >= 0) ? String(v) : '' } }
  ],
  series: series,
  graphic: graphics
});
</script></body></html>
